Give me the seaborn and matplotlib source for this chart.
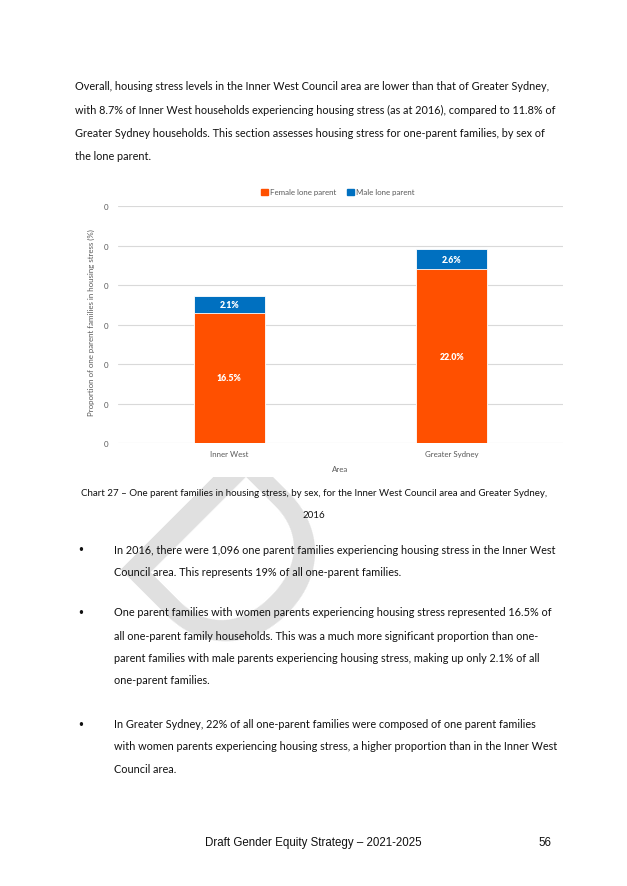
import numpy as np
import pandas as pd
import matplotlib
matplotlib.use("Agg")
import matplotlib.pyplot as plt
import matplotlib.patches as mpatches
import seaborn as sns

# chart data (shares of one parent families in housing stress, 2016)
areas = ["Inner West", "Greater Sydney"]
female_share = [0.165, 0.220]
male_share = [0.021, 0.026]
y_ticks = [0.0, 0.05, 0.10, 0.15, 0.20, 0.25, 0.30]
series_names = ["Female lone parent", "Male lone parent"]

intro_lines = [
    "Overall, housing stress levels in the Inner West Council area are lower than that of Greater Sydney,",
    "with 8.7% of Inner West households experiencing housing stress (as at 2016), compared to 11.8% of",
    "Greater Sydney households. This section assesses housing stress for one-parent families, by sex of",
    "the lone parent.",
]
caption_lines = [
    "Chart 27 \u2013 One parent families in housing stress, by sex, for the Inner West Council area and Greater Sydney,",
    "2016",
]
bullets = [
    ["In 2016, there were 1,096 one parent families experiencing housing stress in the Inner West",
     "Council area. This represents 19% of all one-parent families."],
    ["One parent families with women parents experiencing housing stress represented 16.5% of",
     "all one-parent family households. This was a much more significant proportion than one-",
     "parent families with male parents experiencing housing stress, making up only 2.1% of all",
     "one-parent families."],
    ["In Greater Sydney, 22% of all one-parent families were composed of one parent families",
     "with women parents experiencing housing stress, a higher proportion than in the Inner West",
     "Council area."],
]
bullet_line_y = [[551, 573], [613, 636, 659, 681], [725, 747, 770]]

ORANGE = "#FF5000"
BLUE = "#0070C0"
GREY = "#595959"
INK = "#111111"
WATERMARK = "#E0E0E0"

sns.set_theme(style="white")
plt.rcParams["font.family"] = ["Lato", "DejaVu Sans"]

W, H = 627, 887
fig = plt.figure(figsize=(W / 100, H / 100), dpi=100)


def fy(py):
    return 1 - py / H


# faint draft watermark, mostly hidden behind the chart box
fig.text(98 / W, fy(569), "D", fontsize=173, color=WATERMARK,
         rotation=-45, rotation_mode="anchor", ha="left", va="baseline", zorder=-3)
fig.patches.append(mpatches.Rectangle((62 / W, fy(478)), (570 - 62) / W, (478 - 172) / H,
                                      transform=fig.transFigure, facecolor="white",
                                      edgecolor="none", zorder=-2))

# body text
for i, line in enumerate(intro_lines):
    fig.text(75 / W, fy(87 + i * 23.3), line, fontsize=7.8, color=INK, va="center", ha="left")

for line, py in zip(caption_lines, [494, 515]):
    fig.text(314 / W, fy(py), line, fontsize=7.0, color=INK, va="center", ha="center")

for lines, ys in zip(bullets, bullet_line_y):
    fig.text(81 / W, fy(ys[0]), "\u2022", fontsize=8.3, color=INK, va="center", ha="center",
             family="DejaVu Sans")
    for line, py in zip(lines, ys):
        fig.text(114 / W, fy(py), line, fontsize=7.8, color=INK, va="center", ha="left")

fig.text(205 / W, fy(843), "Draft Gender Equity Strategy \u2013 2021-2025", fontsize=8.3,
         color=INK, va="center", ha="left", family="Liberation Sans")
fig.text(551 / W, fy(843), "56", fontsize=8.3, color=INK, va="center", ha="right",
         family="Liberation Sans")

# chart
left, right, top, bottom = 118.3, 562.7, 207.3, 444.0
ax = fig.add_axes([left / W, fy(bottom), (right - left) / W, (bottom - top) / H])
ax.set_facecolor("white")

df = pd.DataFrame({"Area": areas, "Female": female_share, "Male": male_share})
df["Total"] = df["Female"] + df["Male"]

sns.barplot(data=df, x="Area", y="Total", color=BLUE, width=0.316, ax=ax,
            edgecolor="white", linewidth=0.6, saturation=1, zorder=3)
sns.barplot(data=df, x="Area", y="Female", color=ORANGE, width=0.316, ax=ax,
            edgecolor="white", linewidth=0.6, saturation=1, zorder=4)

for i, row in df.iterrows():
    ax.text(i, row["Female"] / 2, f"{row['Female'] * 100:.1f}%", color="white", fontsize=6.3,
            fontweight="heavy", ha="center", va="center", zorder=5)
    ax.text(i, row["Female"] + row["Male"] / 2, f"{row['Male'] * 100:.1f}%", color="white",
            fontsize=6.3, fontweight="heavy", ha="center", va="center", zorder=5)

ax.set_xlim(-0.5, 1.5)
ax.set_ylim(y_ticks[0], y_ticks[-1])
ax.set_yticks(y_ticks)
ax.set_yticklabels([f"{t:.0f}" for t in y_ticks])
ax.yaxis.grid(True, color="#D9D9D9", linewidth=0.8, zorder=0)
ax.set_axisbelow(True)
for s in ax.spines.values():
    s.set_visible(False)
ax.tick_params(axis="both", length=0, colors=GREY, labelsize=5.7)
ax.tick_params(axis="y", pad=7)
ax.tick_params(axis="x", pad=5)
ax.set_xlabel("Area", fontsize=5.7, color=GREY, labelpad=6)
ax.set_ylabel("Proportion of one parent families in housing stress (%)", fontsize=5.7,
              color=GREY)
ax.yaxis.set_label_coords(-0.052, 0.513)

handles = [mpatches.Patch(color=ORANGE, label=series_names[0]),
           mpatches.Patch(color=BLUE, label=series_names[1])]
fig.legend(handles=handles, loc="center", bbox_to_anchor=(338 / W, fy(193)), ncol=2,
           frameon=False, fontsize=5.7, labelcolor=GREY, handlelength=0.8, handleheight=0.8,
           handletextpad=0.3, columnspacing=1.4)

fig.savefig("out.png", dpi=100, facecolor="white")
